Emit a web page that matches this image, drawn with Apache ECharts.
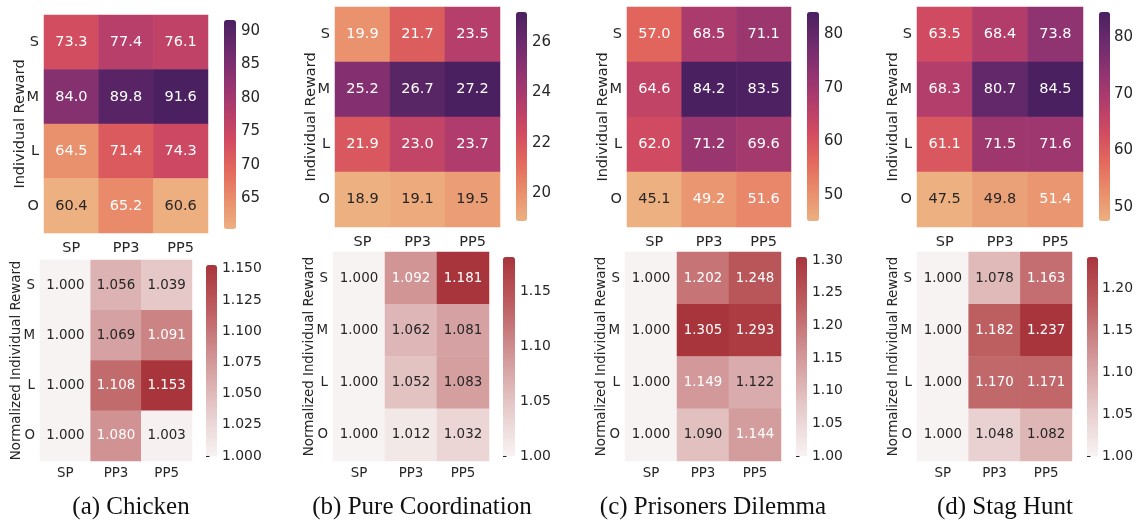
<!DOCTYPE html>
<html lang="en">
<head>
    <meta charset="UTF-8">
    <title>heatmaps</title>
    <script src="https://cdn.jsdelivr.net/npm/echarts@6/dist/echarts.min.js"></script>
    <style>
        * { margin: 0; padding: 0; }
        body { background: #fff; overflow: hidden; }
        #main { width: 1136px; height: 520px; }
    </style>
</head>
<body>
<div id="main"></div>
<script type="text/javascript">
    // categories
    var rows = ['S', 'M', 'L', 'O'];
    var cols = ['SP', 'PP3', 'PP5'];

    // values, row order S, M, L, O
    var chickenReward = [[73.3, 77.4, 76.1], [84.0, 89.8, 91.6], [64.5, 71.4, 74.3], [60.4, 65.2, 60.6]];
    var chickenNorm   = [[1.000, 1.056, 1.039], [1.000, 1.069, 1.091], [1.000, 1.108, 1.153], [1.000, 1.080, 1.003]];
    var pureReward    = [[19.9, 21.7, 23.5], [25.2, 26.7, 27.2], [21.9, 23.0, 23.7], [18.9, 19.1, 19.5]];
    var pureNorm      = [[1.000, 1.092, 1.181], [1.000, 1.062, 1.081], [1.000, 1.052, 1.083], [1.000, 1.012, 1.032]];
    var pdReward      = [[57.0, 68.5, 71.1], [64.6, 84.2, 83.5], [62.0, 71.2, 69.6], [45.1, 49.2, 51.6]];
    var pdNorm        = [[1.000, 1.202, 1.248], [1.000, 1.305, 1.293], [1.000, 1.149, 1.122], [1.000, 1.090, 1.144]];
    var stagReward    = [[63.5, 68.4, 73.8], [68.3, 80.7, 84.5], [61.1, 71.5, 71.6], [47.5, 49.8, 51.4]];
    var stagNorm      = [[1.000, 1.078, 1.163], [1.000, 1.182, 1.237], [1.000, 1.170, 1.171], [1.000, 1.048, 1.082]];

    // colorbar tick labels
    var chickenRewardTicks = ['65', '70', '75', '80', '85', '90'];
    var chickenNormTicks   = ['1.000', '1.025', '1.050', '1.075', '1.100', '1.125', '1.150'];
    var pureRewardTicks    = ['20', '22', '24', '26'];
    var pureNormTicks      = ['1.00', '1.05', '1.10', '1.15'];
    var pdRewardTicks      = ['50', '60', '70', '80'];
    var pdNormTicks        = ['1.00', '1.05', '1.10', '1.15', '1.20', '1.25', '1.30'];
    var stagRewardTicks    = ['50', '60', '70', '80'];
    var stagNormTicks      = ['1.00', '1.05', '1.10', '1.15', '1.20'];

    var captions = ['(a) Chicken', '(b) Pure Coordination', '(c) Prisoners Dilemma', '(d) Stag Hunt'];

    // colormaps
    var flare = ['#EDB081', '#E98D6B', '#E3685C', '#D14A61', '#B13C6C', '#8F3371', '#6C2B6D', '#4A2060'];
    var reds  = ['#F8F3F3', '#E6C9C9', '#D29798', '#BF6164', '#A8343C'];

    var FONT = '"DejaVu Sans", sans-serif';
    var INK = '#262626';

    // layout of each panel (heatmap box, colorbar box)
    var panels = [
        {vals: chickenReward, ticks: chickenRewardTicks, dec: 1, cmap: flare, name: 'Individual Reward', fs: 14.5, xm: 8,
            box: [44, 15, 164, 218], bar: [224, 20, 12, 209]},
        {vals: pureReward, ticks: pureRewardTicks, dec: 1, cmap: flare, name: 'Individual Reward', fs: 14.5, xm: 8,
            box: [335, 7, 165, 220], bar: [516, 12, 11, 209]},
        {vals: pdReward, ticks: pdRewardTicks, dec: 1, cmap: flare, name: 'Individual Reward', fs: 14.5, xm: 8,
            box: [627, 7, 164, 220], bar: [807, 12, 12, 209]},
        {vals: stagReward, ticks: stagRewardTicks, dec: 1, cmap: flare, name: 'Individual Reward', fs: 14.5, xm: 8,
            box: [917, 7, 166, 220], bar: [1099, 12, 11, 209]},
        {vals: chickenNorm, ticks: chickenNormTicks, dec: 3, cmap: reds, name: 'Normalized Individual Reward', fs: 13.4, xm: 6,
            box: [40, 260, 152, 201], bar: [206, 265, 11, 191]},
        {vals: pureNorm, ticks: pureNormTicks, dec: 3, cmap: reds, name: 'Normalized Individual Reward', fs: 13.4, xm: 6,
            box: [333, 252, 156, 209], bar: [503, 257, 12, 199]},
        {vals: pdNorm, ticks: pdNormTicks, dec: 3, cmap: reds, name: 'Normalized Individual Reward', fs: 13.4, xm: 6,
            box: [625, 252, 156, 209], bar: [796, 257, 11, 199]},
        {vals: stagNorm, ticks: stagNormTicks, dec: 3, cmap: reds, name: 'Normalized Individual Reward', fs: 13.4, xm: 6,
            box: [917, 252, 155, 209], bar: [1087, 257, 11, 199]}
    ];
    var captionX = [131, 422, 713, 1005];

    function hexRgb(h) {
        return [parseInt(h.substr(1, 2), 16), parseInt(h.substr(3, 2), 16), parseInt(h.substr(5, 2), 16)];
    }
    // same linear interpolation as visualMap, then seaborn's luminance rule for text colour
    function textColor(cmap, t) {
        var p = t * (cmap.length - 1);
        var i = Math.min(Math.floor(p), cmap.length - 2);
        var f = p - i;
        var a = hexRgb(cmap[i]), b = hexRgb(cmap[i + 1]);
        var lin = [0, 1, 2].map(function (k) {
            var c = (a[k] + (b[k] - a[k]) * f) / 255;
            return c <= 0.03928 ? c / 12.92 : Math.pow((c + 0.055) / 1.055, 2.4);
        });
        var lum = 0.2126 * lin[0] + 0.7152 * lin[1] + 0.0722 * lin[2];
        return lum > 0.408 ? INK : '#ffffff';
    }

    var grid = [], xAxis = [], yAxis = [], series = [], visualMap = [], graphic = [];

    panels.forEach(function (p, k) {
        var flat = [].concat.apply([], p.vals);
        var mn = Math.min.apply(null, flat), mx = Math.max.apply(null, flat);
        var data = [];
        p.vals.forEach(function (row, r) {
            row.forEach(function (v, c) {
                data.push({value: [c, r, v], label: {color: textColor(p.cmap, (v - mn) / (mx - mn))}});
            });
        });

        // heatmap grid
        var g = grid.length;
        grid.push({left: p.box[0], top: p.box[1], width: p.box[2], height: p.box[3]});
        xAxis.push({
            type: 'category', gridIndex: g, data: cols,
            axisLine: {show: false}, axisTick: {show: false}, splitArea: {show: false},
            axisLabel: {color: INK, fontSize: p.fs, fontFamily: FONT, margin: p.xm}
        });
        yAxis.push({
            type: 'category', gridIndex: g, data: rows, inverse: true,
            axisLine: {show: false}, axisTick: {show: false}, splitArea: {show: false},
            axisLabel: {color: INK, fontSize: p.fs, fontFamily: FONT, margin: 5},
            name: p.name, nameLocation: 'middle', nameRotate: 90, nameGap: 16.5,
            nameMoveOverlap: false,
            nameTextStyle: {color: INK, fontSize: p.fs, fontFamily: FONT}
        });
        series.push({
            type: 'heatmap', xAxisIndex: g, yAxisIndex: g, data: data,
            label: {
                show: true, fontSize: p.fs, fontFamily: FONT,
                formatter: (function (dec) {
                    return function (prm) { return prm.value[2].toFixed(dec); };
                })(p.dec)
            },
            itemStyle: {borderWidth: 0},
            emphasis: {disabled: true}
        });
        visualMap.push({
            type: 'continuous', seriesIndex: series.length - 1, dimension: 2,
            min: mn, max: mx, calculable: false, hoverLink: false, padding: 0,
            orient: 'vertical', left: p.bar[0], top: p.bar[1],
            itemWidth: p.bar[2], itemHeight: p.bar[3],
            inRange: {color: p.cmap}
        });

        // colorbar tick axis
        var cg = grid.length;
        var tickVals = p.ticks.map(Number);
        grid.push({left: p.bar[0], top: p.bar[1], width: p.bar[2], height: p.bar[3]});
        xAxis.push({type: 'value', gridIndex: cg, show: false, min: 0, max: 1});
        yAxis.push({
            type: 'value', gridIndex: cg, position: 'right', min: mn, max: mx,
            axisLine: {show: false}, splitLine: {show: false},
            axisTick: {show: true, length: 3.5, lineStyle: {color: INK}, customValues: tickVals},
            axisLabel: {
                color: INK, fontSize: p.fs + 0.5, fontFamily: FONT, margin: 5,
                customValues: tickVals, showMinLabel: true, showMaxLabel: true,
                formatter: function (v) {
                    var i = tickVals.indexOf(v);
                    return i >= 0 ? p.ticks[i] : '';
                }
            }
        });
    });

    captions.forEach(function (t, i) {
        graphic.push({
            type: 'text', x: captionX[i], y: 507,
            style: {
                text: t, fill: '#111', font: '25px "Liberation Serif", serif',
                textAlign: 'center', textVerticalAlign: 'middle'
            }
        });
    });

    var myChart = echarts.init(document.getElementById('main'));
    myChart.setOption({
        animation: false,
        grid: grid,
        xAxis: xAxis,
        yAxis: yAxis,
        visualMap: visualMap,
        series: series,
        graphic: graphic
    });
</script>
</body>
</html>
